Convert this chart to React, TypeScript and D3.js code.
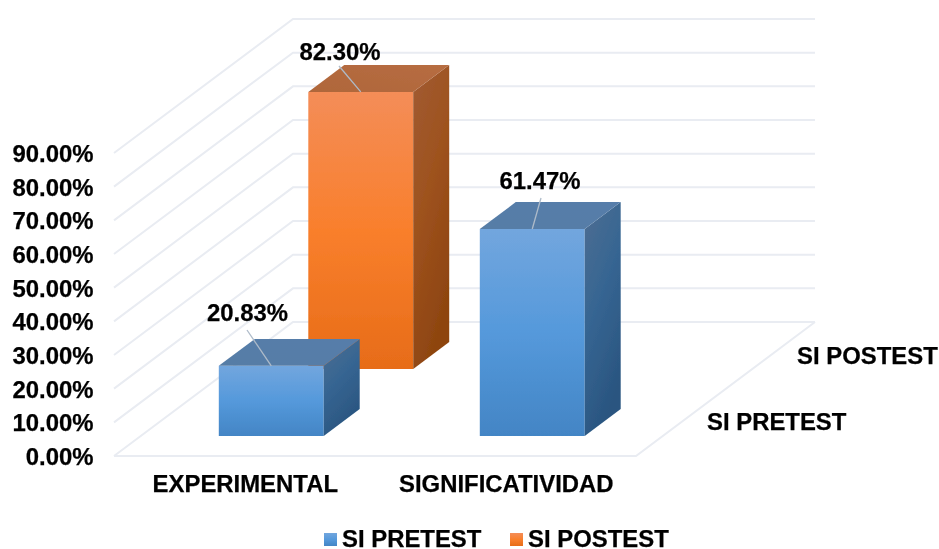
import React from "react";
import * as d3 from "d3";

const categories = ["EXPERIMENTAL", "SIGNIFICATIVIDAD"];
const seriesNames = ["SI PRETEST", "SI POSTEST"];
const pretest: (number | null)[] = [20.83, 61.47];
const posttest: (number | null)[] = [82.3, null];
const yTicks = [0, 10, 20, 30, 40, 50, 60, 70, 80, 90];

const WIDTH = 939;
const HEIGHT = 549;
const FONT = "'Liberation Sans', Arial, sans-serif";

// 3D frame
const X0 = 114, X1 = 636, Y0 = 456;
const DX = 179, DY = -134;
const xScale = d3.scaleBand<string>().domain(categories).range([X0, X1]);
const depthScale = d3.scaleBand<string>().domain(seriesNames).range([0, 1]);
const yScale = d3.scaleLinear().domain([0, 90]).range([0, -303]);
const project = (x: number, d: number, v: number): [number, number] => [
  x + DX * d,
  Y0 + DY * d + yScale(v),
];
const line = d3.line();
const poly = (pts: [number, number][]) => line(pts) + "Z";

const barW = xScale.bandwidth() * 0.402;
const barD = depthScale.bandwidth() * 0.402;

type Bar = {
  cat: string; series: string; value: number; kind: string;
  label: [number, number]; leaderFrom: [number, number]; leaderToFrac: number;
};
const bars: Bar[] = [
  { cat: categories[0], series: seriesNames[1], value: posttest[0]!, kind: "o",
    label: [340, 60], leaderFrom: [339, 66], leaderToFrac: 0.5 },
  { cat: categories[0], series: seriesNames[0], value: pretest[0]!, kind: "b",
    label: [247.5, 321], leaderFrom: [247, 330], leaderToFrac: 0.5 },
  { cat: categories[1], series: seriesNames[0], value: pretest[1]!, kind: "b",
    label: [540, 189], leaderFrom: [541, 198], leaderToFrac: 0.5 },
];

const topFill: Record<string, string> = { b: "url(#bTop)", o: "url(#oTop)" };

function Bar3D({ b }: { b: Bar }) {
  const cx = xScale(b.cat)! + xScale.bandwidth() / 2;
  const dc = depthScale(b.series)! + depthScale.bandwidth() / 2;
  const xl = cx - barW / 2, xr = cx + barW / 2;
  const df = dc - barD / 2, db = dc + barD / 2;
  const p = (x: number, d: number, v: number) => project(x, d, v);
  const v = b.value;
  const to = p(xl + (xr - xl) * b.leaderToFrac, df, v);
  return (
    <g>
      <path d={poly([p(xl, df, 0), p(xr, df, 0), p(xr, df, v), p(xl, df, v)])} fill={`url(#${b.kind}Front)`} />
      <path d={poly([p(xr, df, 0), p(xr, db, 0), p(xr, db, v), p(xr, df, v)])} fill={`url(#${b.kind}Side)`} />
      <path d={poly([p(xl, df, v), p(xr, df, v), p(xr, db, v), p(xl, db, v)])} fill={topFill[b.kind]} />
      <line x1={b.leaderFrom[0]} y1={b.leaderFrom[1]} x2={to[0]} y2={to[1]} stroke="#AEBBC9" strokeWidth={1.3} />
    </g>
  );
}

const txt = { fontFamily: FONT, fontWeight: 700, fill: "#000", stroke: "#000", strokeWidth: 0.25, fontSize: 23.9 } as const;

export default function App() {
  return (
    <svg width={WIDTH} height={HEIGHT} viewBox={`0 0 ${WIDTH} ${HEIGHT}`}
      style={{ position: "absolute", left: 0, top: 0, background: "#fff" }}>
      <defs>
        <filter id="soft" x="-2%" y="-2%" width="104%" height="104%">
          <feGaussianBlur stdDeviation="0.45" />
        </filter>
        <linearGradient id="bFront" x1="0" y1="0" x2="0" y2="1">
          <stop offset="0" stopColor="#72A6DE" />
          <stop offset="0.5" stopColor="#5599DB" />
          <stop offset="1" stopColor="#4385C5" />
        </linearGradient>
        <linearGradient id="oFront" x1="0" y1="0" x2="0" y2="1">
          <stop offset="0" stopColor="#F48D58" />
          <stop offset="0.5" stopColor="#F97F2C" />
          <stop offset="1" stopColor="#E76C18" />
        </linearGradient>
        <linearGradient id="bSide" x1="0" y1="0" x2="0.4" y2="1">
          <stop offset="0" stopColor="#4E6E92" />
          <stop offset="0.5" stopColor="#366592" />
          <stop offset="1" stopColor="#2A5580" />
        </linearGradient>
        <linearGradient id="oSide" x1="0" y1="0" x2="0.4" y2="1">
          <stop offset="0" stopColor="#A15C34" />
          <stop offset="0.5" stopColor="#9E521E" />
          <stop offset="1" stopColor="#8E4510" />
        </linearGradient>
        <linearGradient id="bTop" x1="0" y1="1" x2="1" y2="0">
          <stop offset="0" stopColor="#567DA6" />
          <stop offset="1" stopColor="#567DAA" />
        </linearGradient>
        <linearGradient id="oTop" x1="0" y1="1" x2="1" y2="0">
          <stop offset="0" stopColor="#AF663A" />
          <stop offset="1" stopColor="#B76D42" />
        </linearGradient>
      </defs>

      <g filter="url(#soft)">
        {yTicks.map((t) => {
          const a = project(X0, 0, t), b = project(X0, 1, t), c = project(X1, 1, t);
          return <path key={t} d={line([a, b, c])!} fill="none" stroke="#E9ECF2" strokeWidth={2} />;
        })}
        <path d={line([project(X0, 0, 0), project(X1, 0, 0), project(X1, 1, 0)])!}
          fill="none" stroke="#E9ECF2" strokeWidth={2} />

        {bars.map((b) => <Bar3D key={b.cat + b.series} b={b} />)}

        {yTicks.map((t) => (
          <text key={t} {...txt} x={93.5} y={project(X0, 0, t)[1] + 9} textAnchor="end">
            {d3.format(".2f")(t)}%
          </text>
        ))}
        {categories.map((c) => (
          <text key={c} {...txt} x={xScale(c)! + xScale.bandwidth() / 2 + 0.8} y={492} textAnchor="middle">{c}</text>
        ))}
        <text {...txt} x={707} y={430}>{seriesNames[0]}</text>
        <text {...txt} x={797} y={364}>{seriesNames[1]}</text>

        {bars.map((b) => (
          <text key={b.cat + b.series + "l"} {...txt} x={b.label[0]} y={b.label[1]} textAnchor="middle">
            {b.value.toFixed(2)}%
          </text>
        ))}

        <rect x={324} y={533} width={13} height={13} fill="url(#bFront)" />
        <text {...txt} x={342} y={547}>{seriesNames[0]}</text>
        <rect x={510} y={533} width={13} height={13} fill="url(#oFront)" />
        <text {...txt} x={528} y={547}>{seriesNames[1]}</text>
      </g>
    </svg>
  );
}
